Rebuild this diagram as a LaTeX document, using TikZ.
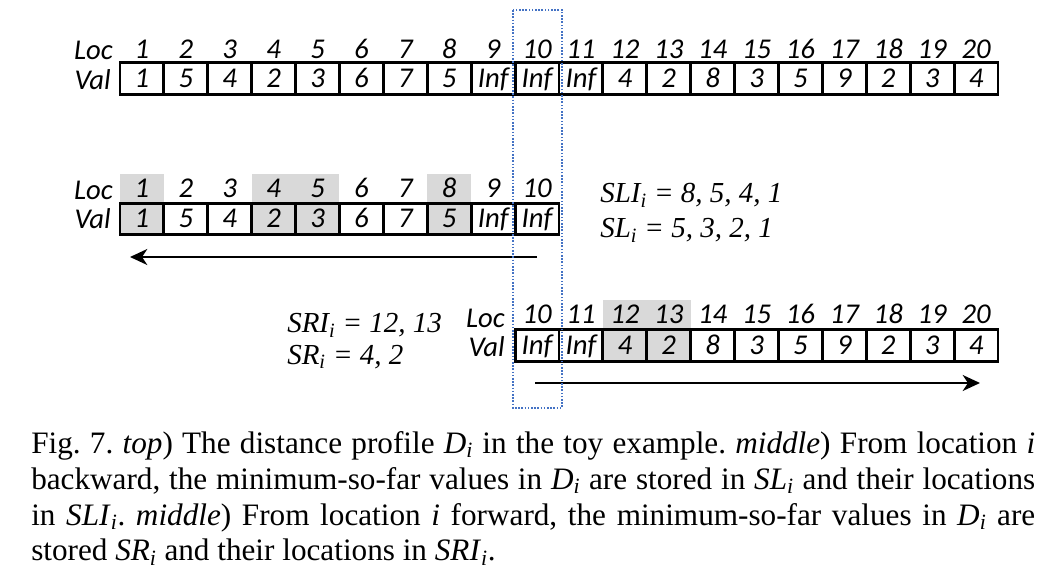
\documentclass[tikz,border=0pt]{standalone}
\usepackage{fontspec}
\setmainfont{Liberation Serif}
\newfontfamily\cellfont{Carlito}
\usetikzlibrary{arrows.meta}
\definecolor{cellgray}{HTML}{D9D9D9}
\definecolor{dotblue}{HTML}{4472C4}
\newcommand{\sym}[2]{\textit{#1}\textsubscript{\textit{#2}}}
\frenchspacing
\begin{document}
\begin{tikzpicture}[x=0.75pt,y=-0.75pt,>={Stealth[length=13pt,width=12pt,inset=4pt]}]
			\tikzset{cell/.style={draw,line width=2.2pt,minimum width=32.9pt,minimum height=23.4pt,inner sep=0pt,text height=13.4pt,text depth=0pt,font=\cellfont\itshape\fontsize{21.5}{24}\selectfont},
				loc/.style={minimum width=32.9pt,minimum height=21.75pt,inner sep=0pt,text height=13.4pt,text depth=0pt,font=\cellfont\itshape\fontsize{21.5}{24}\selectfont},
				rowname/.style={anchor=east,inner sep=0pt,text height=13.6pt,text depth=0pt,font=\cellfont\itshape\fontsize{21.5}{24}\selectfont},
				note/.style={anchor=base west,inner sep=0pt,font=\itshape\fontsize{21.75}{26}\selectfont},
				scan/.style={->,line width=1.5pt}}
			\useasboundingbox (0,0) rectangle (1047,588);
			% top) the whole profile
			\node[rowname] (tloc) at (113,50) {Loc};
			\node[rowname] (tval) at (111,80) {Val};
			\foreach \k/\v in {1/1,2/5,3/4,4/2,5/3,6/6,7/7,8/5,9/Inf,10/Inf,11/Inf,12/4,13/2,14/8,15/3,16/5,17/9,18/2,19/3,20/4}
			{\node[loc] (tl\k) at ({120+(\k-0.5)*43.9},50) {\k};
			 \node[cell] (tc\k) at ({120+(\k-0.5)*43.9},78.5) {\v};}
			% middle) backward
			\node[rowname] (mloc) at (113,190) {Loc};
			\node[rowname] (mval) at (111,219) {Val};
			\foreach \k/\v/\f in {1/1/cellgray,2/5/white,3/4/white,4/2/cellgray,5/3/cellgray,6/6/white,7/7/white,8/5/cellgray,9/Inf/white,10/Inf/white}
			{\node[loc,fill=\f] (ml\k) at ({120+(\k-0.5)*43.9},188.5) {\k};
			 \node[cell,fill=\f] (mc\k) at ({120+(\k-0.5)*43.9},219) {\v};}
			\coordinate (lstart) at (537,257);
			\coordinate (lend) at (130,257);
			\draw[scan] (lstart)--(lend);
			\node[note] (sli) at (600,203) {SLI\textsubscript{i} = 8, 5, 4, 1};
			\node[note] (sl) at (600,238) {SL\textsubscript{i} = 5, 3, 2, 1};
			% bottom) forward
			\node[rowname] (bloc) at (505,318) {Loc};
			\node[rowname] (bval) at (505,347) {Val};
			\foreach \k/\v/\f in {10/Inf/white,11/Inf/white,12/4/cellgray,13/2/cellgray,14/8/white,15/3/white,16/5/white,17/9/white,18/2/white,19/3/white,20/4/white}
			{\node[loc,fill=\f] (bl\k) at ({120+(\k-0.5)*43.9},315) {\k};
			 \node[cell,fill=\f] (bc\k) at ({120+(\k-0.5)*43.9},345.5) {\v};}
			\coordinate (rstart) at (535,383);
			\coordinate (rend) at (980,383);
			\draw[scan] (rstart)--(rend);
			\node[note] (sri) at (287,333) {SRI\textsubscript{i} = 12, 13};
			\node[note] (sr) at (287,364) {SR\textsubscript{i} = 4, 2};
			% location i
			\draw[dotblue,line width=1.2pt,dash pattern=on 1.2pt off 1.2pt] (513,10) rectangle (562,408);
			% caption
			\node[anchor=base west,inner sep=0pt,text width=753pt,align=justify,font=\fontsize{23.4}{27}\selectfont] (cap) at (31,453)
			{\tolerance=9999 Fig. 7. \textit{top}) The distance profile \sym{D}{i} in the toy example. \textit{middle}) From location \textit{i}\linebreak
			backward, the minimum-so-far values in \sym{D}{i} are stored in \sym{SL}{i} and their locations\linebreak
			in \sym{SLI}{i}. \textit{middle}) From location \textit{i} forward, the minimum-so-far values in \sym{D}{i} are\linebreak
			stored \sym{SR}{i} and their locations in \sym{SRI}{i}.};
		\end{tikzpicture}
\end{document}
